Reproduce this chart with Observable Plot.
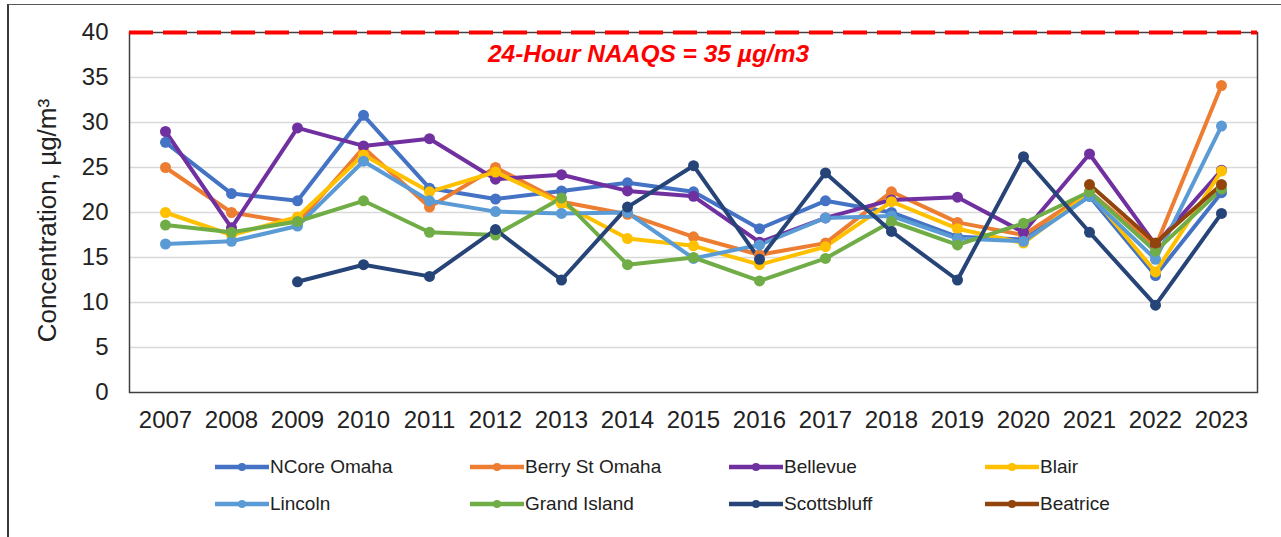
<!DOCTYPE html>
<html>
<head>
<meta charset="utf-8">
<script src="https://cdn.jsdelivr.net/npm/d3@7"></script>
<script src="https://cdn.jsdelivr.net/npm/@observablehq/plot@0.6"></script>
<style>
  body { margin: 0; background: #fff; font-family: "Liberation Sans", Arial, sans-serif; }
  #wrap { position: relative; width: 1281px; height: 537px; overflow: hidden; }
  #outer { position: absolute; left: 7px; top: 4px; width: 1400px; height: 700px;
           border-left: 2px solid #3a3a3a; border-top: 1.5px solid #595959; }
  #chart { position: absolute; left: 0; top: 0; }
  .leg { position: absolute; display: flex; align-items: center; font-size: 19px; color: #222; }
  .leg svg { margin-right: 1px; }
</style>
</head>
<body>
<div id="wrap">
  <div id="outer"></div>
  <div id="chart"></div>
  <div id="legend"></div>
</div>
<script>
const years = [2007,2008,2009,2010,2011,2012,2013,2014,2015,2016,2017,2018,2019,2020,2021,2022,2023];
const seriesNames = ["NCore Omaha","Berry St Omaha","Bellevue","Blair","Lincoln","Grand Island","Scottsbluff","Beatrice"];
const seriesColors = ["#4472C4","#ED7D31","#7030A0","#FFC000","#5B9BD5","#70AD47","#264478","#93440D"];

const ncoreOmaha  = [27.8,22.1,21.3,30.8,22.7,21.5,22.4,23.3,22.3,18.2,21.3,20.0,17.3,17.0,21.8,13.0,22.2];
const berryStOmaha= [25.0,20.0,18.8,27.2,20.6,25.0,21.2,19.8,17.3,15.3,16.6,22.3,18.9,17.5,22.3,16.2,34.1];
const bellevue    = [29.0,18.3,29.4,27.4,28.2,23.7,24.2,22.4,21.8,16.7,19.4,21.4,21.7,17.8,26.5,16.4,24.7];
const blair       = [20.0,17.5,19.5,26.4,22.3,24.5,21.0,17.1,16.3,14.2,16.2,21.2,18.2,16.6,22.2,13.4,24.6];
const lincoln     = [16.5,16.8,18.5,25.7,21.3,20.1,19.9,20.0,14.9,16.4,19.4,19.6,17.1,16.8,21.8,14.8,29.6];
const grandIsland = [18.6,17.8,19.0,21.3,17.8,17.5,21.6,14.2,15.0,12.4,14.9,19.0,16.4,18.8,22.3,15.7,22.6];
const scottsbluff = [null,null,12.3,14.2,12.9,18.1,12.5,20.6,25.2,14.8,24.4,17.9,12.5,26.2,17.8,9.7,19.9];
const beatrice    = [null,null,null,null,null,null,null,null,null,null,null,null,null,null,23.1,16.6,23.1];

const yTicks = [0,5,10,15,20,25,30,35,40];
const gridTicks = [5,10,15,20,25,30,35];
const naaqsLevel = 40;
const naaqsLabel = "24-Hour NAAQS = 35 µg/m3";
const yLabel = "Concentration, µg/m³";

const allSeries = [ncoreOmaha, berryStOmaha, bellevue, blair, lincoln, grandIsland, scottsbluff, beatrice];
const data = [];
allSeries.forEach((vals, si) => {
  vals.forEach((v, i) => data.push({series: seriesNames[si], year: years[i], value: v}));
});

const chart = Plot.plot({
  width: 1281,
  height: 440,
  marginLeft: 129,
  marginRight: 24,
  marginTop: 32,
  marginBottom: 48,
  style: {fontFamily: "'Liberation Sans', Arial, sans-serif", fontSize: "24px", color: "#222", background: "transparent"},
  x: {type: "point", domain: years, padding: 0.5},
  y: {domain: [0, 40]},
  color: {domain: seriesNames, range: seriesColors},
  marks: [
    Plot.gridY(gridTicks, {stroke: "#d9d9d9", strokeOpacity: 1, strokeWidth: 1.5}),
    Plot.frame({stroke: "#404040", strokeWidth: 1.5}),
    Plot.axisY(yTicks, {tickSize: 0, tickPadding: 21, fontSize: 24, label: null}),
    Plot.text([yLabel], {frameAnchor: "left", dx: -82, dy: 8, rotate: -90, textAnchor: "middle", fill: "#222", fontSize: 26}),
    Plot.axisX(years, {tickSize: 0, tickPadding: 18, fontSize: 24, label: null, tickFormat: d => String(d)}),
    Plot.ruleY([naaqsLevel], {stroke: "#FF0000", strokeWidth: 4, strokeDasharray: "24,10"}),
    Plot.text([naaqsLabel], {frameAnchor: "top-left", dx: 519, dy: 12, textAnchor: "middle", fill: "#FF0000", fontWeight: "bold", fontStyle: "italic", fontSize: 24.5}),
    Plot.line(data, {x: "year", y: "value", z: "series", stroke: "series", strokeWidth: 4, curve: "linear"}),
    Plot.dot(data.filter(d => d.value != null), {x: "year", y: "value", fill: "series", r: 5.5})
  ]
});
document.getElementById("chart").appendChild(chart);

// legend
const legendLeft = [215, 470, 729, 985];
const legendTop = [467, 504];
const leg = document.getElementById("legend");
seriesNames.forEach((name, i) => {
  const col = i % 4, row = Math.floor(i / 4);
  const div = document.createElement("div");
  div.className = "leg";
  div.style.left = legendLeft[col] + "px";
  div.style.top = (legendTop[row] - 12) + "px";
  div.style.height = "24px";
  div.innerHTML = `<svg width="54" height="14"><line x1="0" x2="54" y1="7" y2="7" stroke="${seriesColors[i]}" stroke-width="4.5" stroke-linecap="round"/><circle cx="27" cy="7" r="4" fill="${seriesColors[i]}"/></svg><span>${name}</span>`;
  leg.appendChild(div);
});
</script>
</body>
</html>
